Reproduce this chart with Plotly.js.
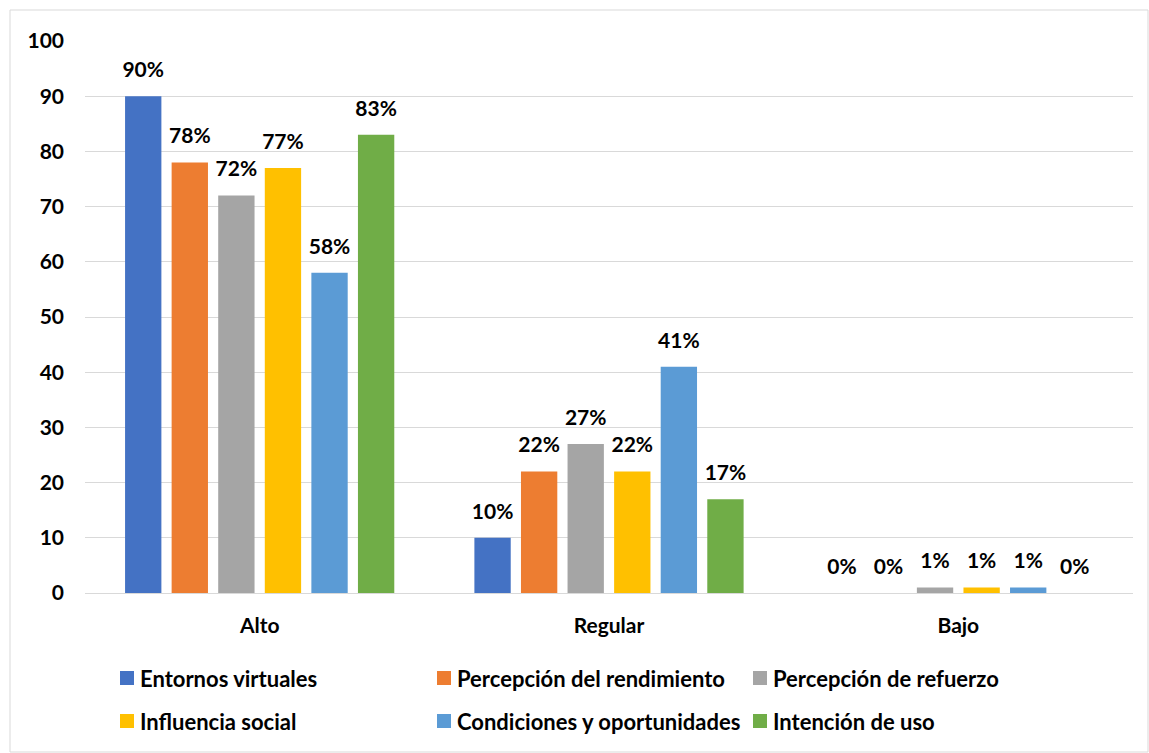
<!DOCTYPE html>
<html><head><meta charset="utf-8">
<script src="https://cdn.plot.ly/plotly-3.0.1.min.js"></script>
<style>body{margin:0;background:#fff}#c{width:1149px;height:753px}</style>
</head><body><div id="c"></div>
<script>
const categories = ["Alto", "Regular", "Bajo"];
const seriesNames = ["Entornos virtuales", "Percepción del rendimiento", "Percepción de refuerzo", "Influencia social", "Condiciones y oportunidades", "Intención de uso"];
const entornos = [90, 10, 0];
const rendimiento = [78, 22, 0];
const refuerzo = [72, 27, 1];
const influencia = [77, 22, 1];
const condiciones = [58, 41, 1];
const intencion = [83, 17, 0];
const yTicks = [0, 10, 20, 30, 40, 50, 60, 70, 80, 90, 100];
const colors = ["#4472C4", "#ED7D31", "#A5A5A5", "#FFC000", "#5B9BD5", "#70AD47"];
const values = [entornos, rendimiento, refuerzo, influencia, condiciones, intencion];
const FONT = "Lato, 'Open Sans', sans-serif";

// layout geometry (pixels)
const W = 1149, H = 753, ML = 85, MR = 16, MT = 41, MB = 160;
const PW = W - ML - MR, PH = H - MT - MB;
const px = x => (x - ML) / PW;
const py = y => (H - MB - y) / PH;
const LABEL_GAP = 2.2; // visual gap between bar top and its label (axis units)

const barTraces = values.map((v, i) => ({
  type: "bar", name: seriesNames[i], x: categories, y: v, offsetgroup: String(i),
  marker: {color: colors[i]}, showlegend: false, hoverinfo: "skip"
}));
const labelTraces = values.map((v, i) => ({
  type: "bar", x: categories, base: v, y: v.map(() => LABEL_GAP), offsetgroup: String(i),
  marker: {color: "rgba(0,0,0,0)"}, showlegend: false, hoverinfo: "skip",
  text: v.map(d => d + "%"), textposition: "outside", cliponaxis: false,
  textfont: {family: FONT, size: 21, color: "#000", weight: 700}
}));

// legend (2 rows x 3 columns)
const colX = [120, 437, 753], rowY = [678, 721], SQ = 14;
const legendShapes = [], legendAnn = [];
seriesNames.forEach((n, i) => {
  const cx = colX[i % 3], cy = rowY[Math.floor(i / 3)];
  legendShapes.push({type: "rect", xref: "paper", yref: "paper",
    x0: px(cx), x1: px(cx + SQ), y0: py(cy + SQ / 2), y1: py(cy - SQ / 2),
    fillcolor: colors[i], line: {width: 0}});
  legendAnn.push({xref: "paper", yref: "paper", x: px(cx + SQ + 4), y: py(cy), xanchor: "left", yanchor: "middle",
    text: n, showarrow: false, font: {family: FONT, size: 22, color: "#000", weight: 700}});
});

const layout = {
  width: W, height: H,
  margin: {l: ML, r: MR, t: MT, b: MB},
  paper_bgcolor: "#fff", plot_bgcolor: "#fff",
  barmode: "group", bargap: 0.2, bargroupgap: 0.22, uniformtext: {mode: false},
  font: {family: FONT, color: "#000"},
  xaxis: {tickfont: {family: FONT, size: 21, weight: 700}, showline: true, linecolor: "#d9d9d9", ticks: "", ticklabelstandoff: 14},
  yaxis: {range: [0, 100], tickvals: yTicks, tickfont: {family: FONT, size: 21, weight: 700},
          gridcolor: "#d9d9d9", zeroline: false, showline: false, ticklabelstandoff: 20},
  showlegend: false,
  annotations: legendAnn,
  shapes: [{type: "rect", xref: "paper", yref: "paper", x0: px(10), x1: px(1148), y0: py(752), y1: py(10),
            line: {color: "#d9d9d9", width: 1}, fillcolor: "rgba(0,0,0,0)", layer: "below"}].concat(legendShapes)
};
labelTraces.forEach(t => { t.constraintext = "none"; });
Plotly.newPlot("c", barTraces.concat(labelTraces), layout, {displayModeBar: false, staticPlot: true});
</script></body></html>
